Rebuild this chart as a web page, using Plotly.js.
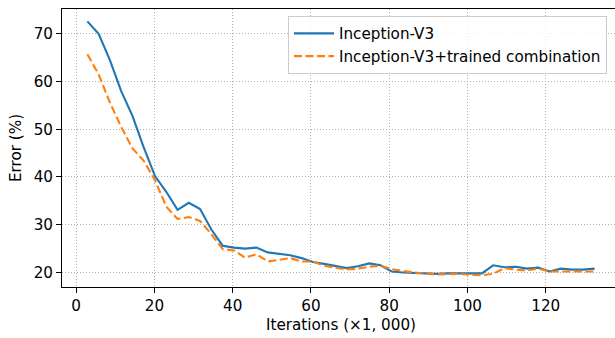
<!DOCTYPE html>
<html>
<head>
<meta charset="utf-8">
<script src="https://cdn.plot.ly/plotly-3.0.1.min.js"></script>
<style>
html, body { margin: 0; padding: 0; overflow: hidden; background: #fff; }
#chart { width: 640px; height: 338px; }
</style>
</head>
<body>
<div id="chart"></div>
<script>
// Iterations (x1,000)
var iterations = [2.88, 5.76, 8.64, 11.52, 14.4, 17.28, 20.16, 23.04, 25.92, 28.8,
  31.68, 34.56, 37.44, 40.32, 43.2, 46.08, 48.96, 51.84, 54.72, 57.6,
  60.48, 63.36, 66.24, 69.12, 72.0, 74.88, 77.76, 80.64, 83.52, 86.4,
  89.28, 92.16, 95.04, 97.92, 100.8, 103.68, 106.56, 109.44, 112.32, 115.2,
  118.08, 120.96, 123.84, 126.72, 129.6, 132.48];

// Error (%) - Inception-V3
var inceptionV3 = [72.6, 70.0, 64.5, 58.0, 52.8, 46.2, 40.2, 36.9, 33.1, 34.6,
  33.3, 29.0, 25.6, 25.2, 25.0, 25.2, 24.2, 23.9, 23.6, 23.0,
  22.2, 21.8, 21.4, 20.9, 21.3, 21.9, 21.5, 20.2, 20.0, 19.9,
  19.8, 19.7, 19.8, 19.8, 19.8, 19.8, 21.5, 21.1, 21.2, 20.8,
  21.0, 20.2, 20.8, 20.6, 20.6, 20.8];

// Error (%) - Inception-V3 + trained combination
var inceptionV3Combo = [65.7, 61.5, 55.6, 50.5, 46.0, 43.4, 39.3, 33.8, 31.2, 31.6,
  30.8, 28.0, 24.9, 24.6, 23.1, 23.8, 22.3, 22.7, 23.0, 22.3,
  22.3, 21.4, 21.0, 20.6, 20.8, 21.2, 21.4, 20.7, 20.3, 20.0,
  19.7, 19.6, 19.7, 19.7, 19.5, 19.4, 19.7, 20.9, 20.6, 20.4,
  20.8, 20.2, 20.2, 20.2, 20.1, 20.2];

var xTicks = [0, 20, 40, 60, 80, 100, 120];
var yTicks = [20, 30, 40, 50, 60, 70];

var font = { family: "DejaVu Sans", size: 15.2, color: "#000" };

var traces = [
  {
    x: iterations, y: inceptionV3, type: "scatter", mode: "lines",
    name: "Inception-V3",
    line: { color: "#1f77b4", width: 2.1 }
  },
  {
    x: iterations, y: inceptionV3Combo, type: "scatter", mode: "lines",
    name: "Inception-V3+trained combination",
    line: { color: "#ff7f0e", width: 2.1, dash: "8px,3.5px" }
  }
];

var axisCommon = {
  showline: true, linecolor: "#000", linewidth: 1, mirror: true,
  ticks: "outside", ticklen: 5, tickwidth: 1, tickcolor: "#000",
  showgrid: true, gridcolor: "#b0b0b0", gridwidth: 1, griddash: "1.1px,1.9px",
  zeroline: false, tickfont: font, automargin: false
};

var layout = {
  width: 640, height: 338,
  margin: { l: 61.6, r: 19.8, t: 9, b: 50.6 },
  paper_bgcolor: "#fff", plot_bgcolor: "#fff",
  font: font,
  showlegend: true,
  xaxis: Object.assign({}, axisCommon, {
    range: [-3.6, 138.96],
    tickvals: xTicks, ticktext: xTicks.map(String),
    title: { text: "Iterations (×1, 000)", font: font, standoff: 5 }
  }),
  yaxis: Object.assign({}, axisCommon, {
    range: [16.95, 75.2],
    tickvals: yTicks, ticktext: yTicks.map(String),
    title: { text: "Error (%)", font: font, standoff: 8 }
  }),
  legend: {
    x: 0.405, y: 0.975, xanchor: "left", yanchor: "top",
    bgcolor: "rgba(255,255,255,0.8)", bordercolor: "#cccccc", borderwidth: 1,
    font: font, tracegroupgap: 0, itemwidth: 40
  }
};

Plotly.newPlot("chart", traces, layout, { staticPlot: true, displayModeBar: false });
</script>
</body>
</html>
